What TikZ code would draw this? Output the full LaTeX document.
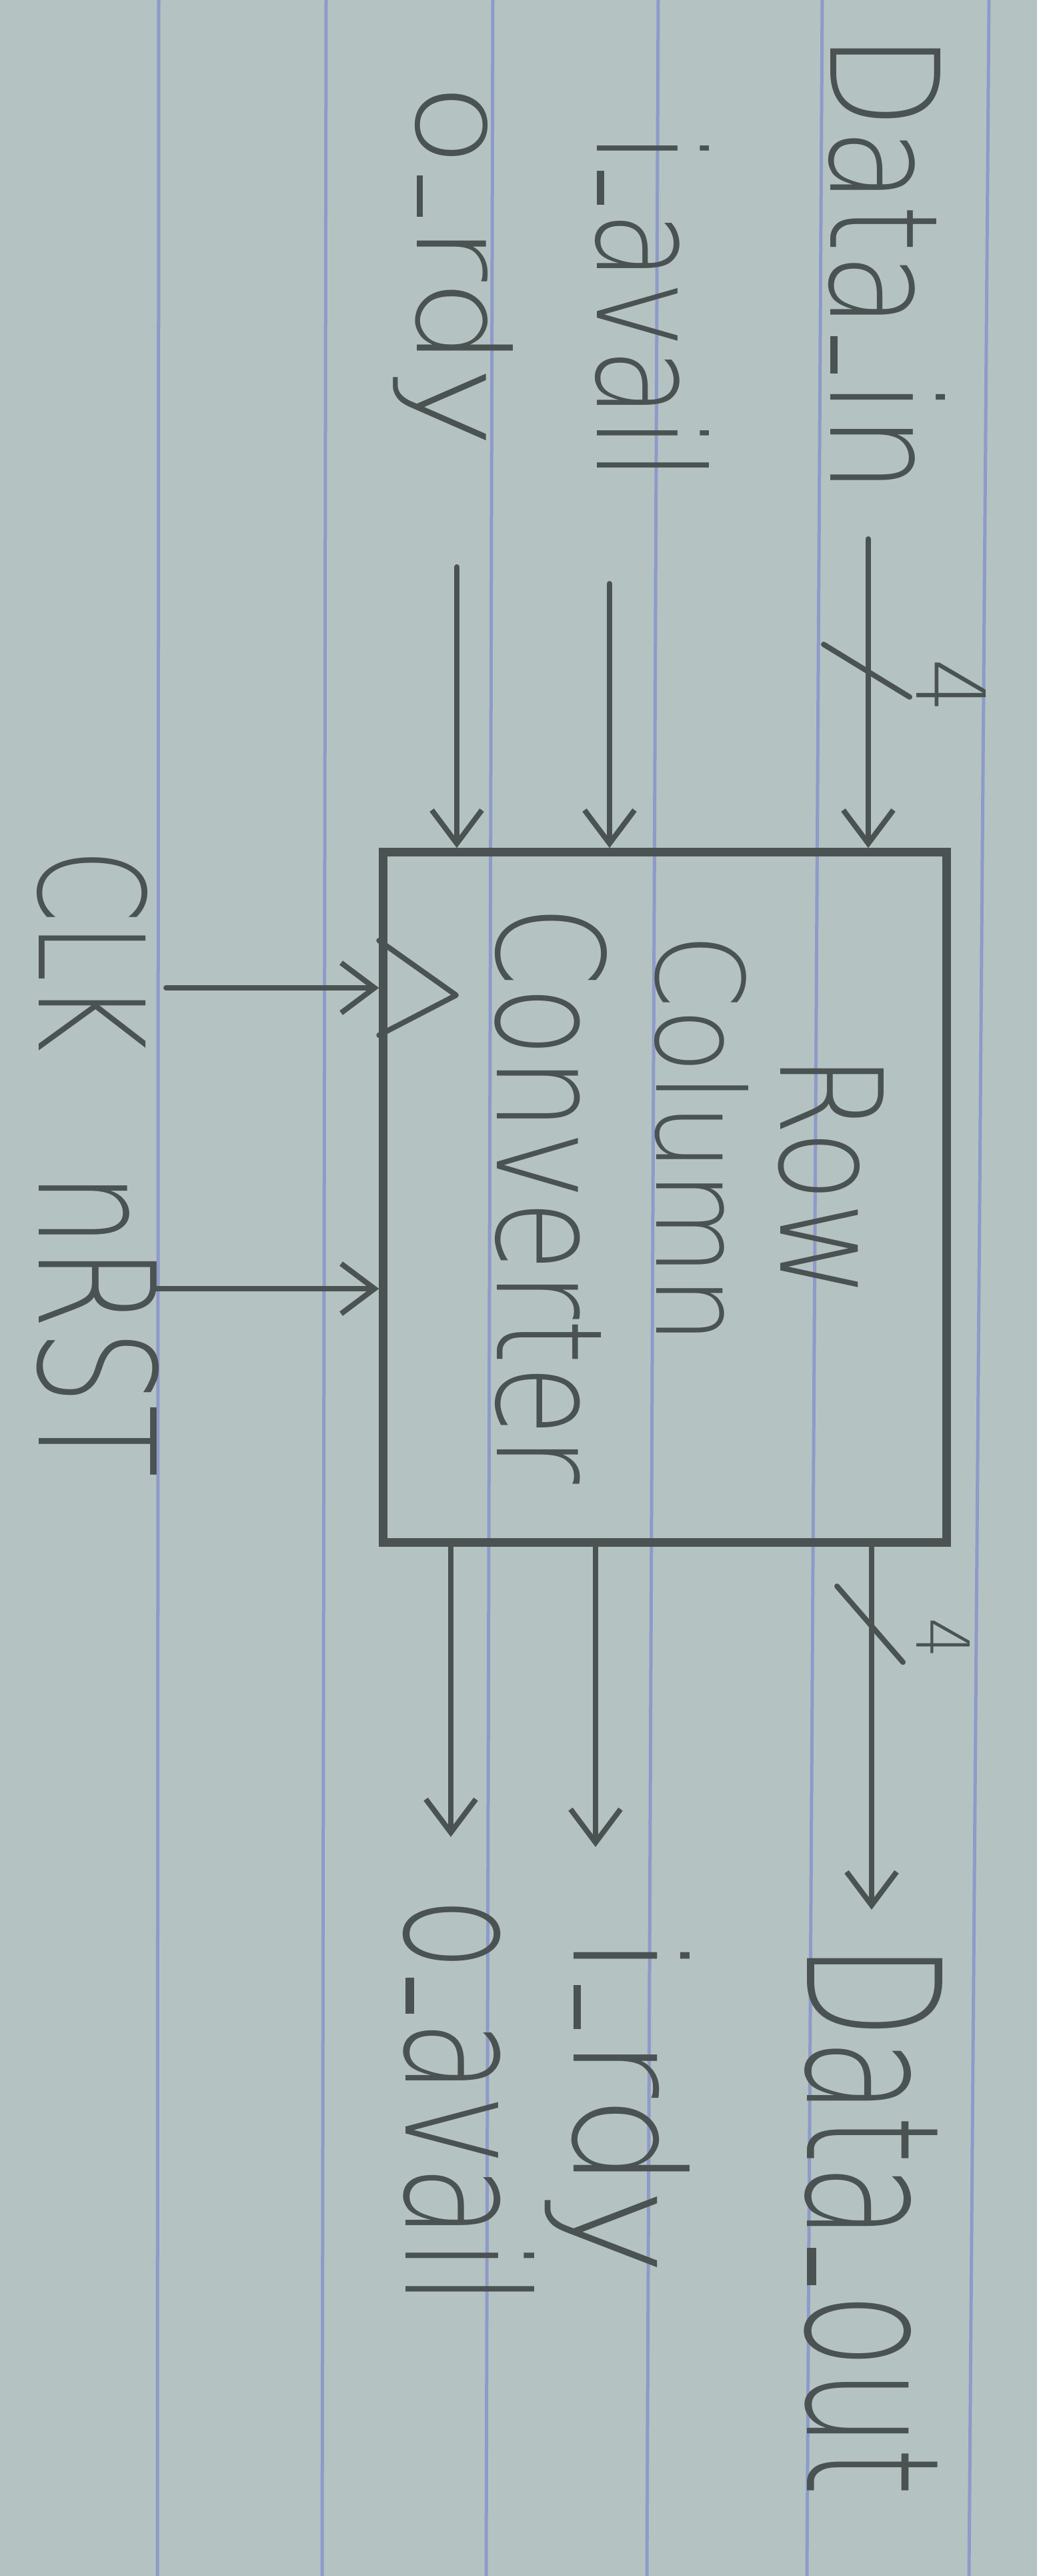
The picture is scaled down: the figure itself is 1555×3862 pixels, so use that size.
\documentclass[tikz,border=0pt]{standalone}
\usepackage{fontspec}
\setmainfont{DejaVuSans-ExtraLight}[Extension=.ttf]
\usepackage{graphicx}
\usetikzlibrary{arrows.meta,calc}
\newlength\upx \setlength\upx{0.01cm}
\definecolor{paper}{HTML}{B4C3C2}
\definecolor{pencil}{HTML}{4A5252}
\definecolor{ruled}{HTML}{8E9BC9}
\newcommand\hw[3]{\resizebox{#1\upx}{#2\upx}{#3}}
\newcommand\us{\kern0.06em\rule{0.3em}{0.05em}\kern0.06em}
\begin{document}
\begin{tikzpicture}[x=0.01cm,y=-0.01cm,
  lbl/.style={rotate=-90,anchor=base west,inner sep=0pt,outer sep=0pt,text=pencil},
  blockst/.style={draw=pencil,line width=0.13cm,inner sep=0pt},
  sig/.style={draw=pencil,line width=0.08cm,line cap=round,-{Straight Barb[length=0.5cm,width=0.75cm,line width=0.08cm]}},
  bus/.style={draw=pencil,line width=0.08cm,line cap=round,line join=round},
  ruleline/.style={draw=ruled,line width=0.05cm}]
\fill[paper] (0,0) rectangle (1555,3862);
\useasboundingbox (0,0) rectangle (1555,3862);
\foreach \a/\b in {238/236,489/483,739/729,987/970,1233/1210,1483/1453}
  \draw[ruleline] (\a,0) -- (\b,3862);
% block
\node[blockst,minimum width=8.44cm,minimum height=10.34cm] (box) at (997,1795) {};
% labels
\node[lbl] (dinL) at (1245,50) {\hw{690}{172}{Data\us in}};
\node[lbl] (iavL) at (895,199) {\hw{522}{168}{i\us avail}};
\node[lbl] (ordyL) at (625,124) {\hw{548}{144}{o\us rdy}};
\node[lbl] (rowL) at (1170,1580) {\hw{366}{155}{Row}};
\node[lbl] (colL) at (984,1399) {\hw{616}{138}{Column}};
\node[lbl] (convL) at (745,1357) {\hw{868}{165}{Converter}};
\node[lbl] (clkL) at (58,1272) {\hw{305}{163}{CLK}};
\node[lbl] (rstL) at (58,1757) {\hw{458}{180}{nRST}};
\node[lbl] (doutL) at (1210,2913) {\hw{830}{203}{Data\us out}};
\node[lbl] (irdyL) at (860,2902) {\hw{509}{174}{i\us rdy}};
\node[lbl] (oavL) at (608,2844) {\hw{613}{193}{o\us avail}};
\node[lbl] (wA) at (1374,987) {\hw{82}{104}{4}};
\node[lbl] (wB) at (1374,2425) {\hw{61}{80}{4}};
% inputs
\coordinate (dinS) at (1302,808);
\coordinate (iavS) at (914,875);
\coordinate (ordyS) at (685,850);
\draw[sig] (dinS) -- (dinS |- box.north);
\draw[sig] (iavS) -- (iavS |- box.north);
\draw[sig] (ordyS) -- (ordyS |- box.north);
% outputs
\coordinate (doutE) at (1307,2863);
\coordinate (irdyE) at (893,2769);
\coordinate (oavE) at (676,2754);
\draw[sig] (doutE |- box.south) -- (doutE);
\draw[sig] (irdyE |- box.south) -- (irdyE);
\draw[sig] (oavE |- box.south) -- (oavE);
% clock and reset
\coordinate (clkS) at (249,1481);
\coordinate (rstS) at (230,1932);
\draw[sig] (clkS) -- (clkS -| box.west);
\draw[sig] (rstS) -- (rstS -| box.west);
% clock triangle
\draw[bus] (box.west |- 0,1410) -- (684,1492) -- (box.west |- 0,1552);
% bus width slashes
\draw[bus] (1235,966) -- (1364,1045);
\draw[bus] (1255,2378) -- (1354,2492);
\end{tikzpicture}
\end{document}
